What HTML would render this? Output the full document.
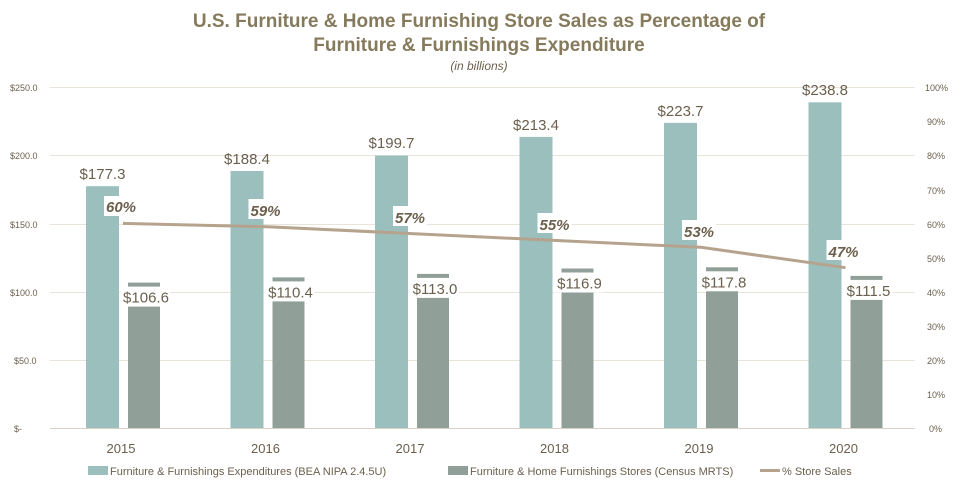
<!DOCTYPE html><html><head><meta charset="utf-8"><style>body{margin:0;background:#fff}svg{display:block}text{font-family:"Liberation Sans",sans-serif}</style></head><body>
<svg width="959" height="490" viewBox="0 0 959 490">
<text x="479" y="27" text-anchor="middle" font-size="19" font-weight="bold" fill="#857a5c">U.S. Furniture &amp; Home Furnishing Store Sales as Percentage of</text>
<text x="479" y="51" text-anchor="middle" font-size="19" font-weight="bold" fill="#857a5c">Furniture &amp; Furnishings Expenditure</text>
<text x="479" y="70" text-anchor="middle" font-size="12" font-style="italic" fill="#6b5f4d">(in billions)</text>
<g stroke="#e8e4dc" stroke-width="1">
<line x1="50" x2="915" y1="87.5" y2="87.5"/><line x1="50" x2="915" y1="155.5" y2="155.5"/><line x1="50" x2="915" y1="224.5" y2="224.5"/><line x1="50" x2="915" y1="292.5" y2="292.5"/><line x1="50" x2="915" y1="360.5" y2="360.5"/></g>
<line x1="50" x2="915" y1="428.5" y2="428.5" stroke="#d8d2c6"/>
<g font-size="9" fill="#6b5f4d">
<text x="10" y="91">$250.0</text><text x="10" y="159">$200.0</text><text x="10" y="228">$150.0</text><text x="10" y="296">$100.0</text><text x="14" y="364">$50.0</text><text x="14" y="432">$-</text>
<text x="925" y="91">100%</text><text x="927" y="125">90%</text><text x="927" y="159">80%</text><text x="927" y="194">70%</text><text x="927" y="228">60%</text><text x="927" y="262">50%</text><text x="927" y="296">40%</text><text x="927" y="330">30%</text><text x="927" y="364">20%</text><text x="927" y="398">10%</text><text x="929" y="432">0%</text>
</g>
<g fill="#9bbfbd">
<rect x="86" y="186.2" width="33" height="241.8"/>
<rect x="230.5" y="171" width="33" height="257"/>
<rect x="375" y="155.6" width="33" height="272.4"/>
<rect x="519.5" y="136.9" width="33" height="291.1"/>
<rect x="664" y="122.9" width="33" height="305.1"/>
<rect x="808.5" y="102.3" width="33" height="325.7"/>
</g>
<g fill="#909f98">
<rect x="128" y="282.6" width="32" height="145.4"/>
<rect x="272.5" y="277.4" width="32" height="150.6"/>
<rect x="417" y="273.9" width="32" height="154.1"/>
<rect x="561.5" y="268.5" width="32" height="159.5"/>
<rect x="706" y="267.3" width="32" height="160.7"/>
<rect x="850.5" y="275.9" width="32" height="152.1"/>
</g>
<g font-size="15" fill="#6b5f4d" text-anchor="middle">
<text x="102.5" y="179">$177.3</text>
<text x="247" y="164">$188.4</text>
<text x="391.5" y="148">$199.7</text>
<text x="536" y="130">$213.4</text>
<text x="680.5" y="116">$223.7</text>
<text x="825" y="95">$238.8</text>
</g>
<g fill="#fff">
<rect x="120" y="286.6" width="50" height="20"/>
<rect x="264.5" y="281.4" width="50" height="20"/>
<rect x="409" y="277.9" width="50" height="20"/>
<rect x="553.5" y="272.5" width="50" height="20"/>
<rect x="698" y="271.3" width="50" height="20"/>
<rect x="842.5" y="279.9" width="50" height="20"/>
</g>
<g font-size="15" fill="#6b5f4d" text-anchor="middle">
<text x="146" y="302.6">$106.6</text>
<text x="290.5" y="297.4">$110.4</text>
<text x="435" y="293.9">$113.0</text>
<text x="579.5" y="288.5">$116.9</text>
<text x="724" y="287.3">$117.8</text>
<text x="868.5" y="295.9">$111.5</text>
</g>
<polyline points="123,223.4 267.5,226.8 412,233.6 556.5,240.5 701,247.3 845.5,267.7" fill="none" stroke="#b5a38e" stroke-width="3"/>
<g fill="#fff">
<rect x="104" y="196" width="34" height="20"/>
<rect x="248.5" y="199" width="34" height="20"/>
<rect x="393" y="206" width="34" height="20"/>
<rect x="537.5" y="213" width="34" height="20"/>
<rect x="682" y="220" width="34" height="20"/>
<rect x="826.5" y="240" width="34" height="20"/>
</g>
<g font-size="15" font-weight="bold" font-style="italic" fill="#6b5f4d" text-anchor="middle">
<text x="121" y="212">60%</text>
<text x="265.5" y="216">59%</text>
<text x="410" y="223">57%</text>
<text x="554.5" y="230">55%</text>
<text x="699" y="237">53%</text>
<text x="843.5" y="257">47%</text>
</g>
<g font-size="13" fill="#6b5f4d" text-anchor="middle">
<text x="121" y="453">2015</text><text x="265.5" y="453">2016</text><text x="410" y="453">2017</text><text x="554.5" y="453">2018</text><text x="699" y="453">2019</text><text x="843.5" y="453">2020</text>
</g>
<rect x="88" y="466" width="20" height="9" fill="#9bbfbd"/>
<text x="110" y="475" font-size="11" fill="#6b5f4d">Furniture &amp; Furnishings Expenditures (BEA NIPA 2.4.5U)</text>
<rect x="448" y="466" width="20" height="9" fill="#909f98"/>
<text x="470" y="475" font-size="11" fill="#6b5f4d">Furniture &amp; Home Furnishings Stores  (Census MRTS)</text>
<line x1="760" x2="780" y1="470.5" y2="470.5" stroke="#b5a38e" stroke-width="3"/>
<text x="782" y="475" font-size="11" fill="#6b5f4d">% Store Sales</text>
</svg></body></html>
